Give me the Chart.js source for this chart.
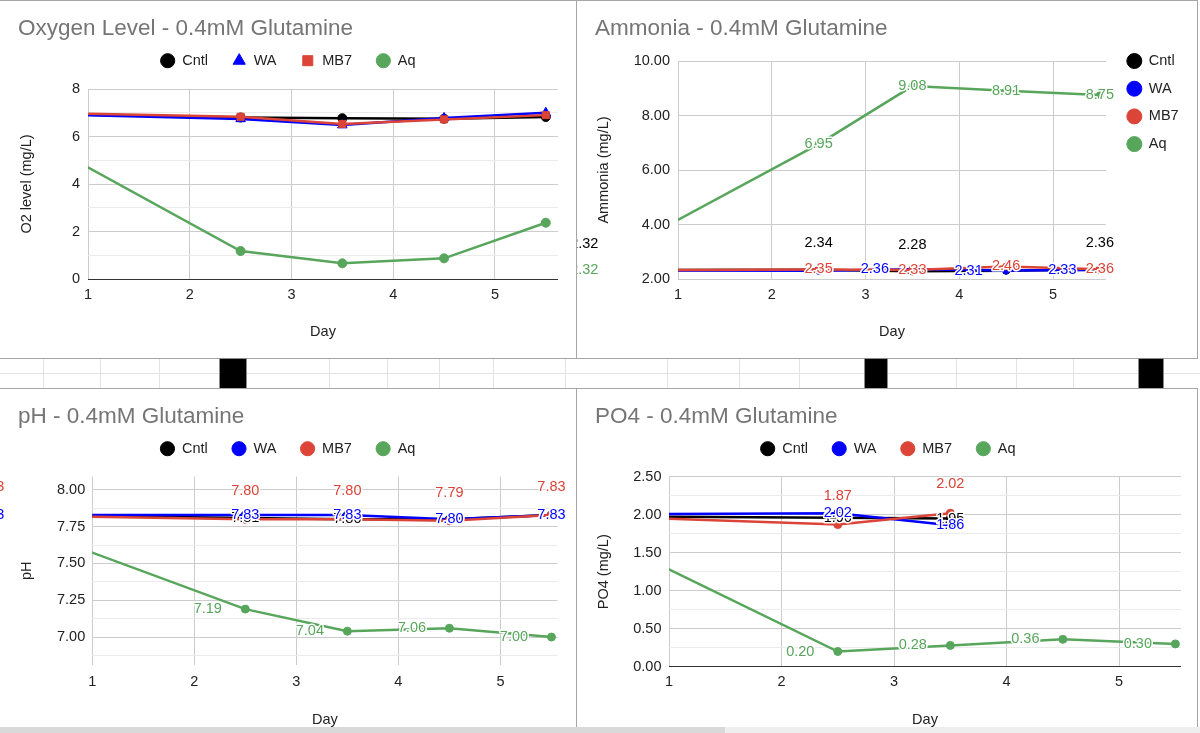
<!DOCTYPE html>
<html>
<head>
<meta charset="utf-8">
<title>0.4mM Glutamine</title>
<script src="https://cdn.jsdelivr.net/npm/chart.js@4.4.1/dist/chart.umd.min.js"></script>
<style>
 html,body{margin:0;padding:0;background:#fff}
 body{position:relative;width:1200px;height:733px;overflow:hidden}
 .panel{position:absolute;box-sizing:border-box;border:1px solid #a6a6a6;background:#fff}
 .line{position:absolute;background:#e3e3e3}
 .blk{position:absolute;top:358px;height:31px;box-sizing:border-box;background:#000;border:1px solid #8a8a8a}
 canvas{position:absolute}
</style>
</head>
<body>
<div class="panel" style="left:-1px;top:0;width:578px;height:359px"></div>
<div class="panel" style="left:576px;top:0;width:622px;height:359px"></div>
<div id="strip"></div>
<div class="panel" style="left:-1px;top:388px;width:578px;height:346px"></div>
<div class="panel" style="left:576px;top:388px;width:622px;height:346px"></div>
<div style="position:absolute;left:0;top:727px;width:725px;height:6px;background:#d9d9d9"></div>
<div style="position:absolute;left:725px;top:727px;width:475px;height:6px;background:#eeeeee"></div>
<canvas id="o2" width="576" height="357" style="left:0;top:1px"></canvas>
<canvas id="nh3" width="620" height="357" style="left:577px;top:1px"></canvas>
<canvas id="ph" width="576" height="338" style="left:0;top:389px"></canvas>
<canvas id="po4" width="620" height="338" style="left:577px;top:389px"></canvas>
<script>
// days on the x axis (first reading sits left of the visible window)
const days = [0, 2.5, 3.5, 4.5, 5.5];
const dayTicks = [1, 2, 3, 4, 5];
const seriesNames = ['Cntl', 'WA', 'MB7', 'Aq'];
const seriesColors = ['#000000', '#0000ff', '#db4437', '#57a65b'];

// O2 level (mg/L)
const o2Cntl = [7.00, 6.80, 6.77, 6.75, 6.82];
const o2WA   = [6.99, 6.74, 6.48, 6.78, 7.00];
const o2MB7  = [7.05, 6.83, 6.53, 6.72, 6.90];
const o2Aq   = [7.05, 1.18, 0.66, 0.87, 2.37];
const o2Ticks = [0, 2, 4, 6, 8];

// Ammonia (mg/L)
const nh3Cntl = [2.32, 2.34, 2.28, 2.30, 2.36];
const nh3WA   = [2.32, 2.30, 2.36, 2.31, 2.33];
const nh3MB7  = [2.32, 2.35, 2.33, 2.46, 2.36];
const nh3Aq   = [2.32, 6.95, 9.08, 8.91, 8.75];
const nh3Ticks = [2, 4, 6, 8, 10];

// pH
const phCntl = [7.83, 7.81, 7.80, 7.80, 7.83];
const phWA   = [7.83, 7.83, 7.83, 7.80, 7.83];
const phMB7  = [7.83, 7.80, 7.80, 7.79, 7.83];
const phAq   = [7.83, 7.19, 7.04, 7.06, 7.00];
const phTicks = [7.00, 7.25, 7.50, 7.75, 8.00];

// PO4 (mg/L)
const po4Cntl = [1.98, 1.96, 1.95];
const po4WA   = [2.00, 2.02, 1.86];
const po4MB7  = [2.00, 1.87, 2.02];
const po4Aq   = [2.00, 0.20, 0.28, 0.36, 0.30];
const po4Ticks = [0, 0.5, 1, 1.5, 2, 2.5];

// spreadsheet strip between the charts
const strip = document.getElementById('strip');
const addDiv = (cls, css) => { const d = document.createElement('div'); d.className = cls; d.style.cssText = css; strip.appendChild(d); };
addDiv('line', 'left:0;top:373px;width:1200px;height:1px');
[43, 100, 159, 329, 387, 439, 493, 565, 667, 739, 799, 956, 1016, 1073].forEach(x => addDiv('line', `left:${x}px;top:359px;width:1px;height:29px`));
[[219, 28], [864, 24], [1138, 26]].forEach(([x, w]) => addDiv('blk', `left:${x}px;width:${w}px`));

Chart.defaults.font.family = '"Liberation Sans", Arial, Helvetica, sans-serif';
Chart.defaults.font.size = 14.5;
Chart.defaults.color = '#222';

// value labels with a white halo, like the sheet's data labels
const labelPlugin = sets => ({
 id: 'pointLabels',
 afterDatasetsDraw(chart) {
  const ctx = chart.ctx;
  ctx.save();
  ctx.font = '14.5px "Liberation Sans", Arial, sans-serif';
  ctx.textAlign = 'center';
  ctx.textBaseline = 'middle';
  ctx.lineJoin = 'round';
  ctx.lineWidth = 3;
  ctx.strokeStyle = '#ffffff';
  chart.data.datasets.forEach((ds, i) => {
   const p = sets[i] || {};
   chart.getDatasetMeta(i).data.forEach((pt, j) => {
    if (p.skip && p.skip.includes(j)) return;
    const txt = ds.data[j].y.toFixed(2);
    const x = pt.x + (p.dx || 0), y = pt.y + (p.dy || 0);
    ctx.fillStyle = ds.borderColor;
    ctx.strokeText(txt, x, y);
    ctx.fillText(txt, x, y);
   });
  });
  ctx.restore();
 }
});

const spacer = (pos, size) => ({
 type: 'linear', position: pos, display: true,
 grid: {display: false}, border: {display: false}, ticks: {display: false},
 afterFit: s => { if (pos === 'top') s.height = size; else s.width = size; }
});

function makeChart(id, c) {
 const onMajor = v => c.yTicks.some(t => Math.abs(t - v) < 1e-6);
 const datasets = c.values.map((vals, i) => ({
  label: seriesNames[i],
  data: vals.map((v, j) => ({x: days[j], y: v})),
  order: c.values.length - i,   // later series painted on top, as in the sheet
  borderColor: seriesColors[i],
  backgroundColor: seriesColors[i],
  pointBackgroundColor: seriesColors[i],
  pointBorderColor: seriesColors[i],
  pointBorderWidth: 1,
  pointStyle: c.shapes ? c.shapes[i] : 'circle',
  pointRadius: c.radius[i],
  borderWidth: 2.5
 }));
 const scales = {
  x: {
   type: 'linear', min: 1, max: c.xMax,
   grid: {color: '#cccccc', drawTicks: false},
   border: {display: false},
   ticks: {stepSize: 1, includeBounds: false, autoSkip: false, maxRotation: 0, padding: c.xTickPad,
    callback: v => dayTicks.includes(v) ? String(v) : ''},
   title: {display: true, text: 'Day', padding: {top: 0, bottom: c.dayPad}},
   afterFit: s => { s.height = c.xHeight; }
  },
  y: {
   min: c.yMin, max: c.yMax,
   grid: {drawTicks: false, color: t => t.tick.value === 0 ? '#333333' : onMajor(t.tick.value) ? '#cccccc' : '#ebebeb'},
   border: {display: false},
   ticks: {stepSize: c.yStep, includeBounds: false, autoSkip: false, padding: c.yTickPad,
    callback: v => onMajor(v) ? v.toFixed(c.digits) : ''},
   title: {display: true, text: c.yTitle, padding: 0},
   afterFit: s => { s.width = c.yWidth; }
  }
 };
 if (c.topGap) scales.gapTop = spacer('top', c.topGap);
 if (c.rightGap) scales.gapRight = spacer('right', c.rightGap);

 const bySeries = (a, b) => a.datasetIndex - b.datasetIndex;
 const legend = c.legendRight ? {
  position: 'right', align: 'start',
  title: {display: true, text: '', font: {size: 12}, padding: {top: 25.15, bottom: 0}},
  labels: {usePointStyle: true, boxHeight: 10.6, padding: 13.2, color: '#222', sort: bySeries}
 } : {
  position: 'top',
  labels: {usePointStyle: true, boxHeight: 10, padding: 24, color: '#222', sort: bySeries}
 };

 return new Chart(document.getElementById(id), {
  type: 'line',
  data: {datasets},
  options: {
   responsive: false,
   animation: false,
   events: [],
   layout: {padding: {left: 18, right: c.padRight, top: 0, bottom: 0}},
   scales,
   plugins: {
    title: {display: true, text: c.title, align: 'start', color: '#757575',
     font: {size: 22.5, weight: 'normal'}, padding: {top: 14.2, bottom: c.titleBottom}},
    legend,
    tooltip: {enabled: false}
   }
  },
  plugins: c.labels ? [labelPlugin(c.labels)] : []
 });
}

makeChart('o2', {
 title: 'Oxygen Level - 0.4mM Glutamine', yTitle: 'O2 level (mg/L)',
 values: [o2Cntl, o2WA, o2MB7, o2Aq],
 shapes: ['circle', 'triangle', 'rect', 'circle'], radius: [4.5, 5.5, 5, 4.5],
 yMin: 0, yMax: 8, yStep: 1, yTicks: o2Ticks, digits: 0, xMax: 5.62,
 yWidth: 70, yTickPad: 8, padRight: 18,
 xHeight: 79, xTickPad: 7.3, dayPad: 17.3,
 titleBottom: -12.75, topGap: 11.05
});

makeChart('nh3', {
 title: 'Ammonia - 0.4mM Glutamine', yTitle: 'Ammonia (mg/L)',
 values: [nh3Cntl, nh3WA, nh3MB7, nh3Aq], radius: [3.5, 3.5, 3.5, 3.5],
 yMin: 2, yMax: 10, yStep: 2, yTicks: nh3Ticks, digits: 2, xMax: 5.565,
 yWidth: 83, yTickPad: 8, padRight: 8.35, rightGap: 7.9, legendRight: true,
 xHeight: 79, xTickPad: 7.3, dayPad: 17.3,
 titleBottom: 18.8,
 labels: [{dy: -26.5, skip: [3]}, {dx: -37.5, skip: [1]}, {}, {}]
});

makeChart('ph', {
 title: 'pH - 0.4mM Glutamine', yTitle: 'pH',
 values: [phCntl, phWA, phMB7, phAq], radius: [4, 4, 4, 4],
 yMin: 6.81, yMax: 8.09, yStep: 0.125, yTicks: phTicks, digits: 2, xMax: 5.56,
 yWidth: 74.2, yTickPad: 7, padRight: 18.4,
 xHeight: 62, xTickPad: 8, dayPad: -1.7,
 titleBottom: -12.75, topGap: 10.75,
 labels: [{}, {}, {dy: -28}, {dx: -37.5}]
});

makeChart('po4', {
 title: 'PO4 - 0.4mM Glutamine', yTitle: 'PO4 (mg/L)',
 values: [po4Cntl, po4WA, po4MB7, po4Aq], radius: [4, 4, 4, 4],
 yMin: 0, yMax: 2.5, yStep: 0.25, yTicks: po4Ticks, digits: 2, xMax: 5.55,
 yWidth: 74, yTickPad: 7.5, padRight: 16,
 xHeight: 60.3, xTickPad: 6.3, dayPad: -1.7,
 titleBottom: -12.75, topGap: 10.75,
 labels: [{}, {}, {dy: -29}, {dx: -37.5}]
});
</script>
</body>
</html>
